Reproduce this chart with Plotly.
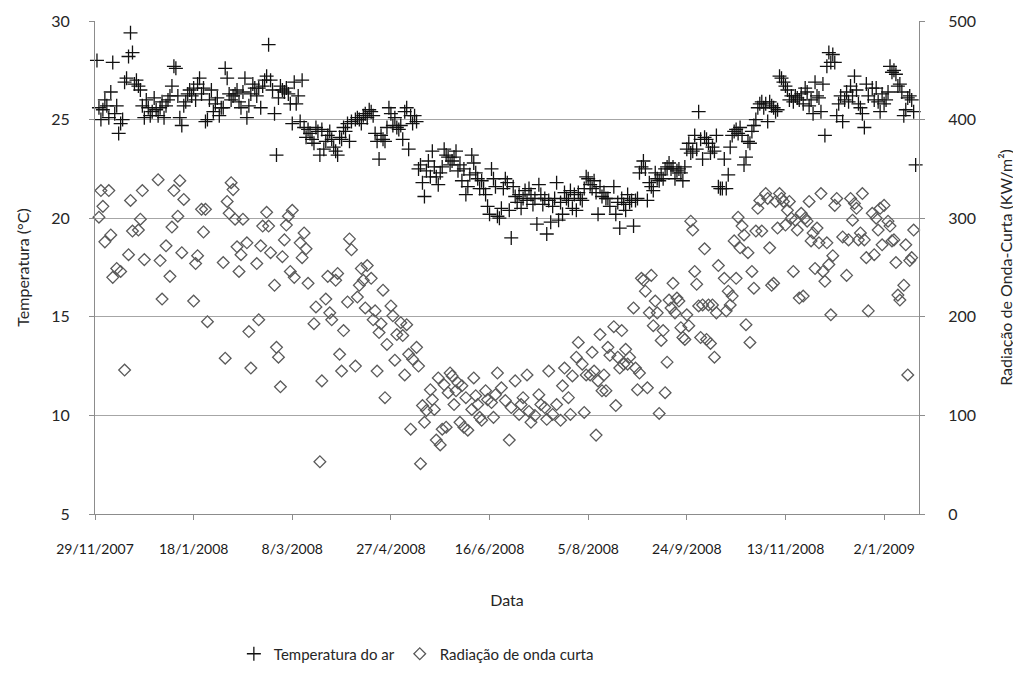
import pandas as pd
import plotly.graph_objects as go

N = None
start_date = "2007-11-29"

# Temperatura do ar (°C), daily values from 29/11/2007
temperatura = [
    N,
    28.0, 25.6, 25.0, 25.5, 26.0, 25.7, 25.1, 26.4, 27.9, 25.3,
    25.7, 24.3, 24.8, 25.0, 26.9, 27.1, 28.2, 29.4, 28.4, 26.8,
    27.0, 26.7, 26.5, 25.7, 25.1, 26.0, 25.6, 25.2, 25.4, 26.1,
    25.5, 25.2, 25.6, 25.9, 25.1, 25.7, 26.0, 26.2, 26.7, 27.7,
    27.6, 26.2, 25.1, 24.7, 25.7, 25.9, 26.3, 26.5, 26.2, 26.6,
    26.0, 26.8, 27.1, 26.3, 26.6, 24.9, 25.0, 26.0, 26.5, 25.4,
    25.8, 26.1, 25.2, 25.6, 25.6, 27.6, 27.1, 26.3, 26.0, 26.2,
    26.3, 26.5, 25.9, 25.6, 26.4, 27.1, 25.1, 25.7, 26.3, 26.8,
    26.6, 26.2, 26.6, 25.6, 26.7, 27.0, 27.2, 28.8, 27.0, 26.5,
    25.3, 23.2, 26.1, 26.7, 26.5, 26.4, 26.6, 26.3, 25.8, 24.8,
    26.9, 25.8, 26.2, 24.9, 27.0, 24.6, 24.1, 24.5, 24.3, 24.0,
    23.8, 24.6, 24.4, 23.2, 24.5, 23.5, 23.9, 24.2, 24.4, 24.0,
    23.6, 23.4, 23.2, 24.1, 24.0, 24.6, 24.4, 24.8, 23.9, 24.9,
    N,
    25.0, 25.1, 25.0, 24.8, 25.2, 25.3, 25.1, 25.5, 25.4, 25.2,
    24.3, 23.9, 23.0, 24.2, 24.0, 23.9, 24.6, 25.6, 25.3, 24.7,
    25.1, 24.6, 24.5, 24.7, 24.0, 25.4, 25.6, 23.5, 25.2, 24.8,
    25.2, 24.9, 22.5, 22.7, 21.8, 21.1, 22.4, 22.9, 22.1, 23.4,
    22.6, 22.1, 21.7, 22.3, 22.6, 23.5, 23.2, 23.1, 22.7, 22.9,
    23.1, 23.4, 22.4, 22.7, 21.9, 22.5, 21.2, 21.6, 22.2, 23.2,
    22.8, 22.3, 22.0, 21.5, 21.9, 21.5, 21.2, 20.6, 20.2, 22.5,
    22.0, 21.6, 20.1, 20.0, 20.5, 21.5, 22.0, 21.8, 20.4, 19.0,
    21.6, 21.1, 20.8, 21.2, 20.5, 21.0, 21.4, 20.9, 21.5, 21.2,
    20.7, 21.0, 19.7, 21.7, 21.2, 20.7, 21.0, 19.2, 20.9, 19.8,
    20.6, 21.0, 21.8, 19.9, 20.8, 20.2, 21.3, 21.0, 20.9, 21.4,
    20.5, 21.2, 20.4, 21.3, 21.0, 20.9, 21.5, 22.1, 22.0, 21.7,
    21.5, 21.9, 21.3, 20.2, 21.6, 21.1, 21.3, 21.0, 21.0, 20.6,
    N,
    21.6, 20.2, 20.8, 19.5, 21.0, 20.7, 20.4, 21.2, 20.8, 20.9,
    19.6, 20.9, 21.0, 22.3, 22.6, 22.9, 22.5, 20.9, 21.8, 21.6,
    21.4, 22.3, 22.0, 21.9, 22.2, 22.0, 22.5, 22.6, 22.8, 22.5,
    22.6, 22.0, 22.4, 22.5, 22.3, 21.9, 22.6, 23.5, 23.8, 23.3,
    23.4, 24.2, 23.5, 25.4, 24.0, 23.0, 24.1, 24.0, 23.8, 23.3,
    23.6, 23.4, 24.2, 21.6, 21.5, 21.5, 23.0, 21.5, 22.2, 23.6,
    24.2, 24.4, 24.5, 24.3, 24.6, 24.2, 22.7, 23.1, 23.9, 23.8,
    24.4, 24.7, 25.0, 25.6, 25.8, 25.9, 25.6, 25.8, 24.9, 25.9,
    25.7, 25.6, 25.4, 25.5, 27.2, 27.1, 26.9, 26.7, 26.5, 26.0,
    26.2, 25.9, 26.2, 26.1, 26.0, 26.3, 25.8, 26.6, 26.4, 25.7,
    26.0, 25.3, 26.9, 26.2, 26.1, 25.4, 26.8, 24.2, 27.7, 28.4,
    27.9, 28.3, 27.9, 25.2, 25.8, 26.2, 24.9, 26.0, 26.4, 25.9,
    26.7, 26.2, 27.2, 26.5, 25.8, 25.6, 25.3, 24.6, 26.8, 26.2,
    N,
    26.6, 26.0, 26.6, 25.9, 25.4, 26.3, 25.8, 26.0, 26.4, 27.7,
    27.4, 27.5, 27.3, 26.7, 26.8, 26.4, 25.2, 25.5, 26.1, 26.2,
    26.0, 25.4, 22.7,
]

# Radiação de onda curta (KW/m²), daily values from 29/11/2007
radiacao = [
    N,
    N, 301, 328, 312, 276, N, 328, 283, 240, N,
    249, N, 246, N, 146, N, 263, 318, 287, N,
    N, 288, 299, 328, 258, N, N, N, N, N,
    N, 339, 257, 218, N, 272, N, 241, 291, 328,
    N, 302, 338, 265, 319, N, N, N, N, 216,
    254, 262, N, 309, 286, 309, 195, N, N, N,
    N, N, N, N, 255, 158, 317, 305, 336, 329,
    299, 271, 246, 263, 299, N, 275, 185, 148, N,
    N, 254, 197, 272, 292, N, 306, 292, 265, N,
    232, 169, 159, 129, 261, 278, 293, 302, 246, 308,
    240, N, N, 275, 260, 285, 269, 234, N, N,
    193, 210, N, 53, 135, N, 218, 241, 204, 197,
    N, 237, 244, 162, 145, 186, N, 215, 279, 268,
    N,
    150, 220, 232, 249, 237, 209, 252, N, 239, 197,
    206, 145, 184, 193, 227, 118, 172, N, 211, 201,
    156, 182, N, 194, 181, 141, 192, 162, 86, 157,
    N, 169, 150, 51, 110, 93, 105, N, 126, 116,
    106, 75, 138, 70, 86, 131, 88, 123, 143, 140,
    111, 125, 133, 93, 130, 88, 118, 85, N, 106,
    138, 120, 111, 98, 95, N, 125, 116, N, 113,
    98, 121, 143, N, 128, N, 115, N, 75, 108,
    N, 135, N, 101, 111, 118, N, 141, 104, 93,
    N, 100, N, 121, 111, N, 108, 96, 145, N,
    101, N, 111, N, 95, 130, 148, N, 118, 101,
    140, N, 159, 174, N, 152, 103, 141, N, 141,
    164, 145, 80, 135, 182, 125, 141, 125, 169, 161,
    N,
    190, 110, 159, 148, 186, 152, 167, 152, 159, N,
    209, 148, 126, 143, 239, 237, 226, 128, 204, 242,
    191, 216, 204, 102, 176, 186, 123, 154, 217, 209,
    234, 204, 219, 216, 189, 179, 177, 202, 191, 297,
    288, 246, 233, 211, 179, 212, 269, 177, 212, 173,
    212, 159, 204, 252, N, N, 239, 206, 226, 212,
    221, 277, 239, 301, 270, 292, 283, 192, 265, 174,
    246, 229, 287, 310, 318, 287, N, 325, 320, 270,
    232, 234, 317, 290, 325, 320, 317, 293, 308, 317,
    300, 246, 298, 288, 219, 305, 221, 300, 297, 317,
    277, 285, 249, 290, 275, 325, 246, 236, 275, 253,
    202, 262, 313, 320, N, N, 281, N, 242, 278,
    320, 298, 315, 310, 278, 285, 325, 278, 260, 206,
    N,
    305, 263, 300, 288, 310, 273, 313, N, 297, 292,
    277, 278, 255, 222, 217, N, 232, 273, 141, 257,
    260, 288,
]

tick_labels = ["29/11/2007", "18/1/2008", "8/3/2008", "27/4/2008", "16/6/2008",
               "5/8/2008", "24/9/2008", "13/11/2008", "2/1/2009"]
tick_step_days = 50
axis_span_days = 417.7

start = pd.Timestamp(start_date)
dates_t = [start + pd.Timedelta(days=i) for i in range(len(temperatura))]
dates_r = [start + pd.Timedelta(days=i) for i in range(len(radiacao))]
tick_vals = [start + pd.Timedelta(days=tick_step_days * i) for i in range(len(tick_labels))]

FONT = "Lato, 'Open Sans', sans-serif"
AXIS_COLOR = "#8c8c8c"

fig = go.Figure()
fig.add_trace(go.Scatter(
    x=dates_t, y=temperatura, mode="markers", name="Temperatura do ar",
    marker=dict(symbol="cross-thin-open", size=10, line=dict(width=1.3, color="#111111"),
                color="#111111"),
    cliponaxis=False,
))
fig.add_trace(go.Scatter(
    x=dates_r, y=radiacao, mode="markers", name="Radiação de onda curta",
    yaxis="y2",
    marker=dict(symbol="diamond-open", size=9, line=dict(width=1.3, color="#5a5a5a"),
                color="#5a5a5a"),
    cliponaxis=False,
))

fig.update_layout(
    width=1013, height=672,
    margin=dict(l=87, r=102, t=13, b=165.5, autoexpand=False),
    paper_bgcolor="white", plot_bgcolor="white",
    font=dict(family=FONT, size=16, color="#262626"),
    showlegend=True,
    legend=dict(orientation="h", x=0.39, xanchor="center", y=-0.284, yanchor="middle",
                font=dict(size=15, color="#262626"), itemwidth=30, tracegroupgap=0),
    xaxis=dict(
        type="date",
        range=[start, start + pd.Timedelta(days=axis_span_days)],
        tickvals=tick_vals, ticktext=tick_labels,
        tickfont=dict(size=14, color="#1a1a1a"),
        ticks="outside", ticklen=5, tickcolor=AXIS_COLOR,
        ticklabelstandoff=17,
        showline=True, linecolor=AXIS_COLOR, linewidth=1.2,
        showgrid=False, zeroline=False,
        title=dict(text="Data", font=dict(size=16), standoff=38),
    ),
    yaxis=dict(
        range=[5, 30], dtick=5, tick0=5,
        tickfont=dict(size=16, color="#262626"),
        ticks="outside", ticklen=5, tickcolor=AXIS_COLOR,
        ticklabelstandoff=16,
        showline=True, linecolor=AXIS_COLOR, linewidth=1.2,
        showgrid=True, gridcolor="#a6a6a6", gridwidth=1,
        zeroline=False,
        title=dict(text="Temperatura (°C)", font=dict(size=16), standoff=17),
    ),
    yaxis2=dict(
        range=[0, 500], dtick=100, tick0=0,
        overlaying="y", side="right",
        tickfont=dict(size=16, color="#262626"),
        ticks="outside", ticklen=5, tickcolor=AXIS_COLOR,
        ticklabelstandoff=20,
        showline=True, linecolor=AXIS_COLOR, linewidth=1.2,
        showgrid=False, zeroline=False,
        title=dict(text="Radiação de Onda-Curta (KW/m²)", font=dict(size=16), standoff=25),
    ),
)

fig.write_html("out.html")
